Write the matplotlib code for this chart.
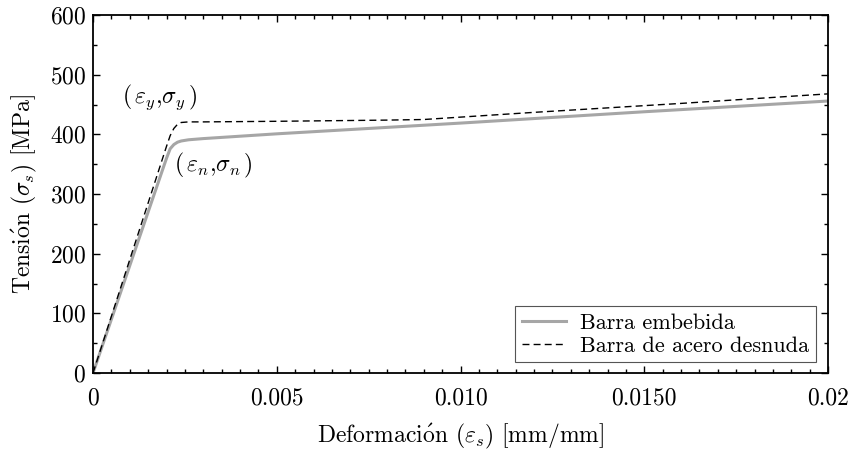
import matplotlib
matplotlib.use('Agg')
import matplotlib.pyplot as plt
from matplotlib.ticker import MultipleLocator

plt.rcParams['mathtext.fontset'] = 'cm'
plt.rcParams['font.family'] = 'serif'
plt.rcParams['font.serif'] = ['cmr10', 'DejaVu Serif']
plt.rcParams['axes.formatter.use_mathtext'] = True

# datos
emb_eps = [0, 0.0005, 0.001, 0.0015, 0.002, 0.0021, 0.0022, 0.0023, 0.0024, 0.0026, 0.003, 0.005, 0.010, 0.015, 0.020]
emb_sig = [0, 90, 180, 270, 360, 376, 383, 387, 389, 391, 393, 401, 419, 438, 456]

bare_eps = [0, 0.0005, 0.001, 0.0015, 0.002, 0.0021, 0.0022, 0.0023, 0.0024, 0.0026, 0.003, 0.005, 0.008, 0.009, 0.012, 0.016, 0.020]
bare_sig = [0, 95, 190, 285, 380, 398, 410, 417, 420, 421, 421, 422, 424, 425, 437, 452, 468]

x_ticks = [0, 0.005, 0.010, 0.015, 0.020]
x_labels = ['0', '0.005', '0.010', '0.0150', '0.02']
y_ticks = [0, 100, 200, 300, 400, 500, 600]

fig = plt.figure(figsize=(8.54, 4.53), dpi=100)
ax = fig.add_axes([0.1089, 0.1766, 0.8607, 0.790])

ax.plot(emb_eps, emb_sig, color='#a6a6a6', lw=2.2, label='Barra embebida')
ax.plot(bare_eps, bare_sig, color='black', lw=1.0, ls=(0, (5, 3)), label='Barra de acero desnuda')

ax.text(0.00078, 462, r'$(\,\varepsilon_y{,}\sigma_y\,)$', fontsize=17, va='center')
ax.text(0.0022, 348, r'$(\,\varepsilon_n{,}\sigma_n\,)$', fontsize=17, va='center')

ax.set_xlim(0, 0.02)
ax.set_ylim(0, 600)
ax.set_xticks(x_ticks)
ax.set_xticklabels(x_labels)
ax.set_yticks(y_ticks)
ax.xaxis.set_minor_locator(MultipleLocator(0.0005))
ax.yaxis.set_minor_locator(MultipleLocator(50))
ax.tick_params(which='both', direction='in', top=True, right=True, labelsize=17)
ax.tick_params(axis='x', pad=10)
ax.tick_params(axis='y', pad=5)
ax.tick_params(which='major', length=5, width=1)
ax.tick_params(which='minor', length=3, width=1)
for s in ax.spines.values():
    s.set_linewidth(1.3)

ax.set_xlabel(r'Deformaci$\acute{\rm o}$n $(\varepsilon_s)$ [mm/mm]', fontsize=17, labelpad=9)
ax.set_ylabel(r'Tensi$\acute{\rm o}$n $(\sigma_s)$ [MPa]', fontsize=17, labelpad=8)

leg = ax.legend(loc='lower right', bbox_to_anchor=(0.983, 0.03), fontsize=16, fancybox=False,
                framealpha=1, edgecolor='#555555', borderaxespad=0, handlelength=2.0,
                borderpad=0.3, labelspacing=0.15, handletextpad=0.6)
leg.get_frame().set_linewidth(0.8)

fig.savefig('out.png', dpi=100)
